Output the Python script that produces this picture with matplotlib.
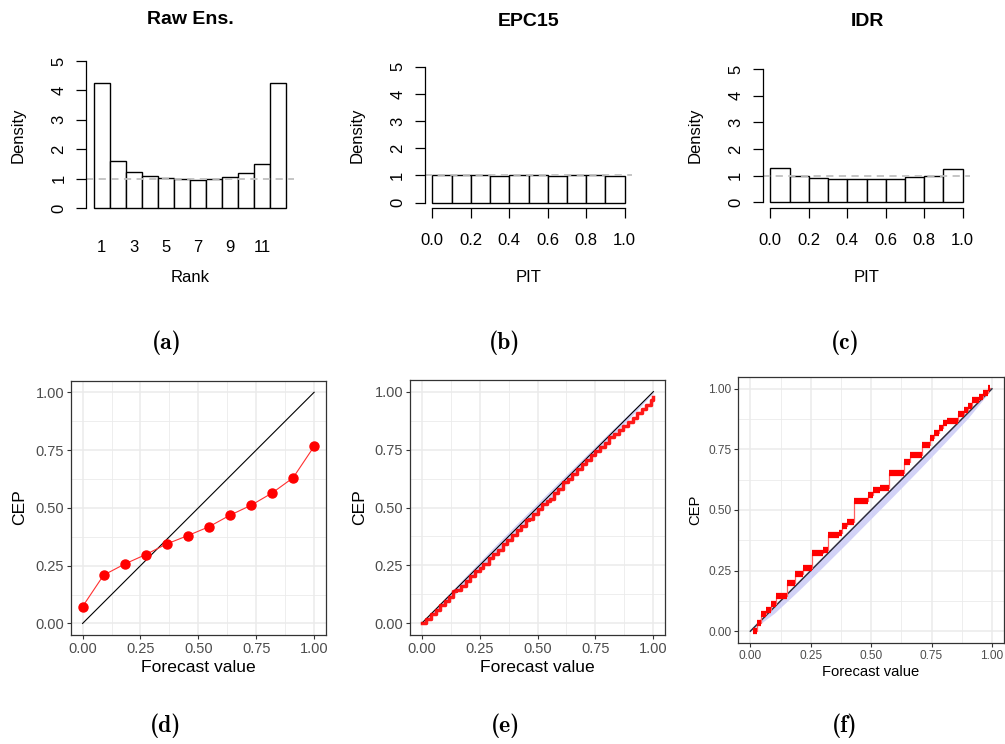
import os
import numpy as np
import matplotlib
matplotlib.use("Agg")
import matplotlib.pyplot as plt
from matplotlib.font_manager import FontProperties

plt.rcParams['font.family'] = ['Liberation Sans', 'DejaVu Sans']

W, H = 1005, 744
cm_bold = FontProperties(fname=os.path.join(matplotlib.get_data_path(), 'fonts', 'ttf', 'cmb10.ttf'))

# ---- rank / PIT histograms ----
rank_bins = list(range(1, 13))
rank_density = [4.24, 1.60, 1.24, 1.10, 1.01, 0.98, 0.97, 0.98, 1.05, 1.19, 1.49, 4.26]
rank_ticks = [1, 3, 5, 7, 9, 11]

pit_edges = [0.0, 0.1, 0.2, 0.3, 0.4, 0.5, 0.6, 0.7, 0.8, 0.9, 1.0]
epc_pit_density = [1.00, 1.00, 1.00, 0.99, 1.00, 1.01, 0.99, 1.00, 1.01, 0.99]
idr_pit_density = [1.29, 0.97, 0.90, 0.89, 0.89, 0.89, 0.89, 0.94, 0.99, 1.26]
pit_ticks = [0.0, 0.2, 0.4, 0.6, 0.8, 1.0]

# ---- reliability (CEP) curves ----
raw_fc = [0.0, 1/11, 2/11, 3/11, 4/11, 5/11, 6/11, 7/11, 8/11, 9/11, 10/11, 1.0]
raw_cep = [0.073, 0.209, 0.257, 0.298, 0.344, 0.380, 0.418, 0.468, 0.511, 0.564, 0.630, 0.766]

epc_fc = [0.0, 0.02, 0.04, 0.06, 0.08, 0.10, 0.12, 0.135, 0.15, 0.17, 0.19, 0.21,
          0.23, 0.25, 0.265, 0.28, 0.29, 0.31, 0.33, 0.35, 0.37, 0.39, 0.41, 0.43,
          0.45, 0.465, 0.48, 0.50, 0.52, 0.54, 0.555, 0.57, 0.59, 0.61, 0.63, 0.65,
          0.67, 0.69, 0.71, 0.73, 0.75, 0.77, 0.79, 0.81, 0.83, 0.85, 0.87, 0.89,
          0.91, 0.93, 0.95, 0.97, 0.99, 1.0]
epc_cep = [0.0, 0.017, 0.040, 0.057, 0.079, 0.097, 0.116, 0.138, 0.142, 0.162, 0.181, 0.203,
           0.225, 0.241, 0.258, 0.258, 0.282, 0.300, 0.318, 0.342, 0.359, 0.381, 0.404, 0.422,
           0.446, 0.450, 0.474, 0.494, 0.516, 0.530, 0.535, 0.562, 0.581, 0.608, 0.624, 0.646,
           0.665, 0.686, 0.703, 0.727, 0.743, 0.761, 0.778, 0.802, 0.816, 0.834, 0.852, 0.870,
           0.886, 0.906, 0.925, 0.944, 0.962, 0.975]
epc_band_x = [0.0, 0.1, 0.2, 0.3, 0.4, 0.5, 0.6, 0.7, 0.8, 0.9, 1.0]
epc_band_lo = [0.0, 0.086, 0.182, 0.280, 0.379, 0.479, 0.580, 0.682, 0.785, 0.888, 0.995]
epc_band_hi = [0.0, 0.110, 0.214, 0.318, 0.419, 0.519, 0.618, 0.716, 0.814, 0.910, 1.0]

idr_start = [0.012, 0.028, 0.043, 0.065, 0.085, 0.106, 0.152, 0.183, 0.216, 0.255,
             0.299, 0.321, 0.365, 0.380, 0.400, 0.427, 0.485, 0.507, 0.537, 0.572,
             0.634, 0.661, 0.709, 0.744, 0.760, 0.781, 0.796, 0.813, 0.858, 0.884,
             0.900, 0.916, 0.946, 0.964, 0.982]
idr_cep = [0.000, 0.035, 0.069, 0.087, 0.112, 0.147, 0.199, 0.236, 0.261, 0.323,
           0.337, 0.398, 0.405, 0.435, 0.449, 0.536, 0.563, 0.584, 0.591, 0.653,
           0.700, 0.728, 0.769, 0.797, 0.817, 0.838, 0.857, 0.869, 0.897, 0.911,
           0.930, 0.955, 0.968, 0.982, 1.003]
idr_end = 0.99
idr_band_x = [0.0, 0.1, 0.2, 0.3, 0.4, 0.5, 0.6, 0.7, 0.8, 0.9, 1.0]
idr_band_lo = [0.0, 0.075, 0.168, 0.265, 0.364, 0.465, 0.566, 0.668, 0.772, 0.878, 1.0]
idr_band_hi = [0.0, 0.103, 0.203, 0.303, 0.403, 0.503, 0.603, 0.703, 0.803, 0.903, 1.0]

fig = plt.figure(figsize=(W / 100, H / 100), dpi=100)


def add_ax(x0, y0, x1, y1):
    return fig.add_axes([x0 / W, 1 - y1 / H, (x1 - x0) / W, (y1 - y0) / H])


def ftext(x, y, s, **kw):
    fig.text(x / W, 1 - y / H, s, ha='center', va='center', **kw)


# ---------------- top row: base-graphics style histograms ----------------
def hist_axes(ax, xlim, show_xaxis):
    ax.set_xlim(*xlim)
    ax.set_ylim(-0.2, 5.2)
    for s in ['top', 'right']:
        ax.spines[s].set_visible(False)
    ax.spines['left'].set_bounds(0, 5)
    ax.spines['left'].set_linewidth(0.9)
    ax.set_yticks([0, 1, 2, 3, 4, 5])
    ax.tick_params(axis='y', length=7, width=0.9, pad=7, labelsize=12, labelrotation=90)
    for lbl in ax.get_yticklabels():
        lbl.set_va('center')
    if show_xaxis:
        ax.spines['bottom'].set_linewidth(0.9)
        ax.tick_params(axis='x', length=7, width=0.9, pad=11, labelsize=12)
    else:
        ax.spines['bottom'].set_visible(False)
        ax.tick_params(axis='x', length=0, pad=19, labelsize=12)


ax = add_ax(86, 55, 294, 214)
ax.bar(rank_bins, rank_density, width=1.0, facecolor='white', edgecolor='black', linewidth=1.0)
ax.axhline(1, color='#c0c0c0', lw=1.3, ls=(0, (4, 3)))
hist_axes(ax, (0.02, 12.98), False)
ax.set_xticks(rank_ticks)

for (x0, y0, x1, y1), dens in [((424.6, 61.3, 632.4, 208.1), epc_pit_density),
                               ((762.6, 63.7, 970.4, 207.6), idr_pit_density)]:
    ax = add_ax(x0, y0, x1, y1)
    ax.bar(pit_edges[:-1], dens, width=0.1, align='edge', facecolor='white',
           edgecolor='black', linewidth=1.0)
    ax.axhline(1, color='#c0c0c0', lw=1.3, ls=(0, (4, 3)))
    hist_axes(ax, (-0.04, 1.04), True)
    ax.spines['bottom'].set_bounds(0, 1)
    ax.set_xticks(pit_ticks)
    ax.set_xticklabels([f'{t:.1f}' for t in pit_ticks])

ftext(190, 20, 'Raw Ens.', fontsize=14, fontweight='bold')
ftext(529, 21, 'EPC15', fontsize=14, fontweight='bold')
ftext(867, 22, 'IDR', fontsize=14, fontweight='bold')
for x in [18, 357, 695]:
    ftext(x, 135, 'Density', fontsize=12, rotation=90)
ftext(190, 278, 'Rank', fontsize=12)
ftext(529, 277, 'PIT', fontsize=12)
ftext(867, 277, 'PIT', fontsize=12)


# ---------------- bottom row: reliability diagrams ----------------
def rel_axes(ax, tick_fs):
    ax.set_xlim(-0.05, 1.05)
    ax.set_ylim(-0.05, 1.05)
    ticks = [0, 0.25, 0.5, 0.75, 1.0]
    minor = [0.125, 0.375, 0.625, 0.875]
    ax.set_xticks(ticks)
    ax.set_yticks(ticks)
    ax.set_xticks(minor, minor=True)
    ax.set_yticks(minor, minor=True)
    ax.set_xticklabels([f'{t:.2f}' for t in ticks])
    ax.set_yticklabels([f'{t:.2f}' for t in ticks])
    ax.grid(True, which='major', color='#ebebeb', lw=1.1, zorder=0)
    ax.grid(True, which='minor', color='#ebebeb', lw=0.6, zorder=0)
    ax.set_axisbelow(True)
    for s in ax.spines.values():
        s.set_color('#333333')
        s.set_linewidth(0.9)
    ax.tick_params(which='major', length=3, width=0.8, color='#333333', pad=2,
                   labelsize=tick_fs, labelcolor='#4d4d4d')
    ax.tick_params(which='minor', length=0)


# (d) raw ensemble
ax = add_ax(71, 380.7, 325.7, 635)
ax.plot([0, 1], [0, 1], color='black', lw=0.8, zorder=2)
ax.plot(raw_fc, raw_cep, color='#ff3030', lw=0.8, zorder=3)
ax.plot(raw_fc, raw_cep, 'o', color='red', ms=6.5, zorder=4)
rel_axes(ax, 10.5)

# (e) EPC15
ax = add_ax(410, 380, 665, 635)
ax.fill_between(epc_band_x, epc_band_lo, epc_band_hi, color='#c8c8f5', alpha=0.8, lw=0, zorder=1)
ax.plot([0, 1], [0, 1], color='black', lw=0.8, zorder=2)
ax.step(epc_fc, epc_cep, where='post', color='red', lw=2.5, alpha=0.9, zorder=3)
rel_axes(ax, 10.5)

# (f) IDR
ax = add_ax(738.3, 376.7, 1004, 643.3)
ax.fill_between(idr_band_x, idr_band_lo, idr_band_hi, color='#d2d2f7', lw=0, zorder=1)
ax.plot([0, 1], [0, 1], color='#2e2e3e', lw=1.1, zorder=2)
xs = idr_start + [idr_end]
ax.step(xs, idr_cep + [idr_cep[-1]], where='post', color='#ff6060', lw=0.9, zorder=3)
ax.hlines(idr_cep, idr_start, xs[1:], color='red', lw=4.5, zorder=4)
rel_axes(ax, 8.6)

ftext(20, 507, 'CEP', fontsize=12.6, rotation=90)
ftext(360, 507, 'CEP', fontsize=12.6, rotation=90)
ftext(695, 510, 'CEP', fontsize=10.6, rotation=90)
ftext(198, 667, 'Forecast value', fontsize=12.6)
ftext(537, 667, 'Forecast value', fontsize=12.6)
ftext(871, 672, 'Forecast value', fontsize=10.6)

# panel captions
for x, y, s in [(167, 343, '(a)'), (505, 343, '(b)'), (845, 343, '(c)'),
                (166, 726, '(d)'), (505, 726, '(e)'), (845, 726, '(f)')]:
    ftext(x, y, s, fontproperties=cm_bold, fontsize=17)

fig.savefig('out.png', dpi=100, facecolor='white')
